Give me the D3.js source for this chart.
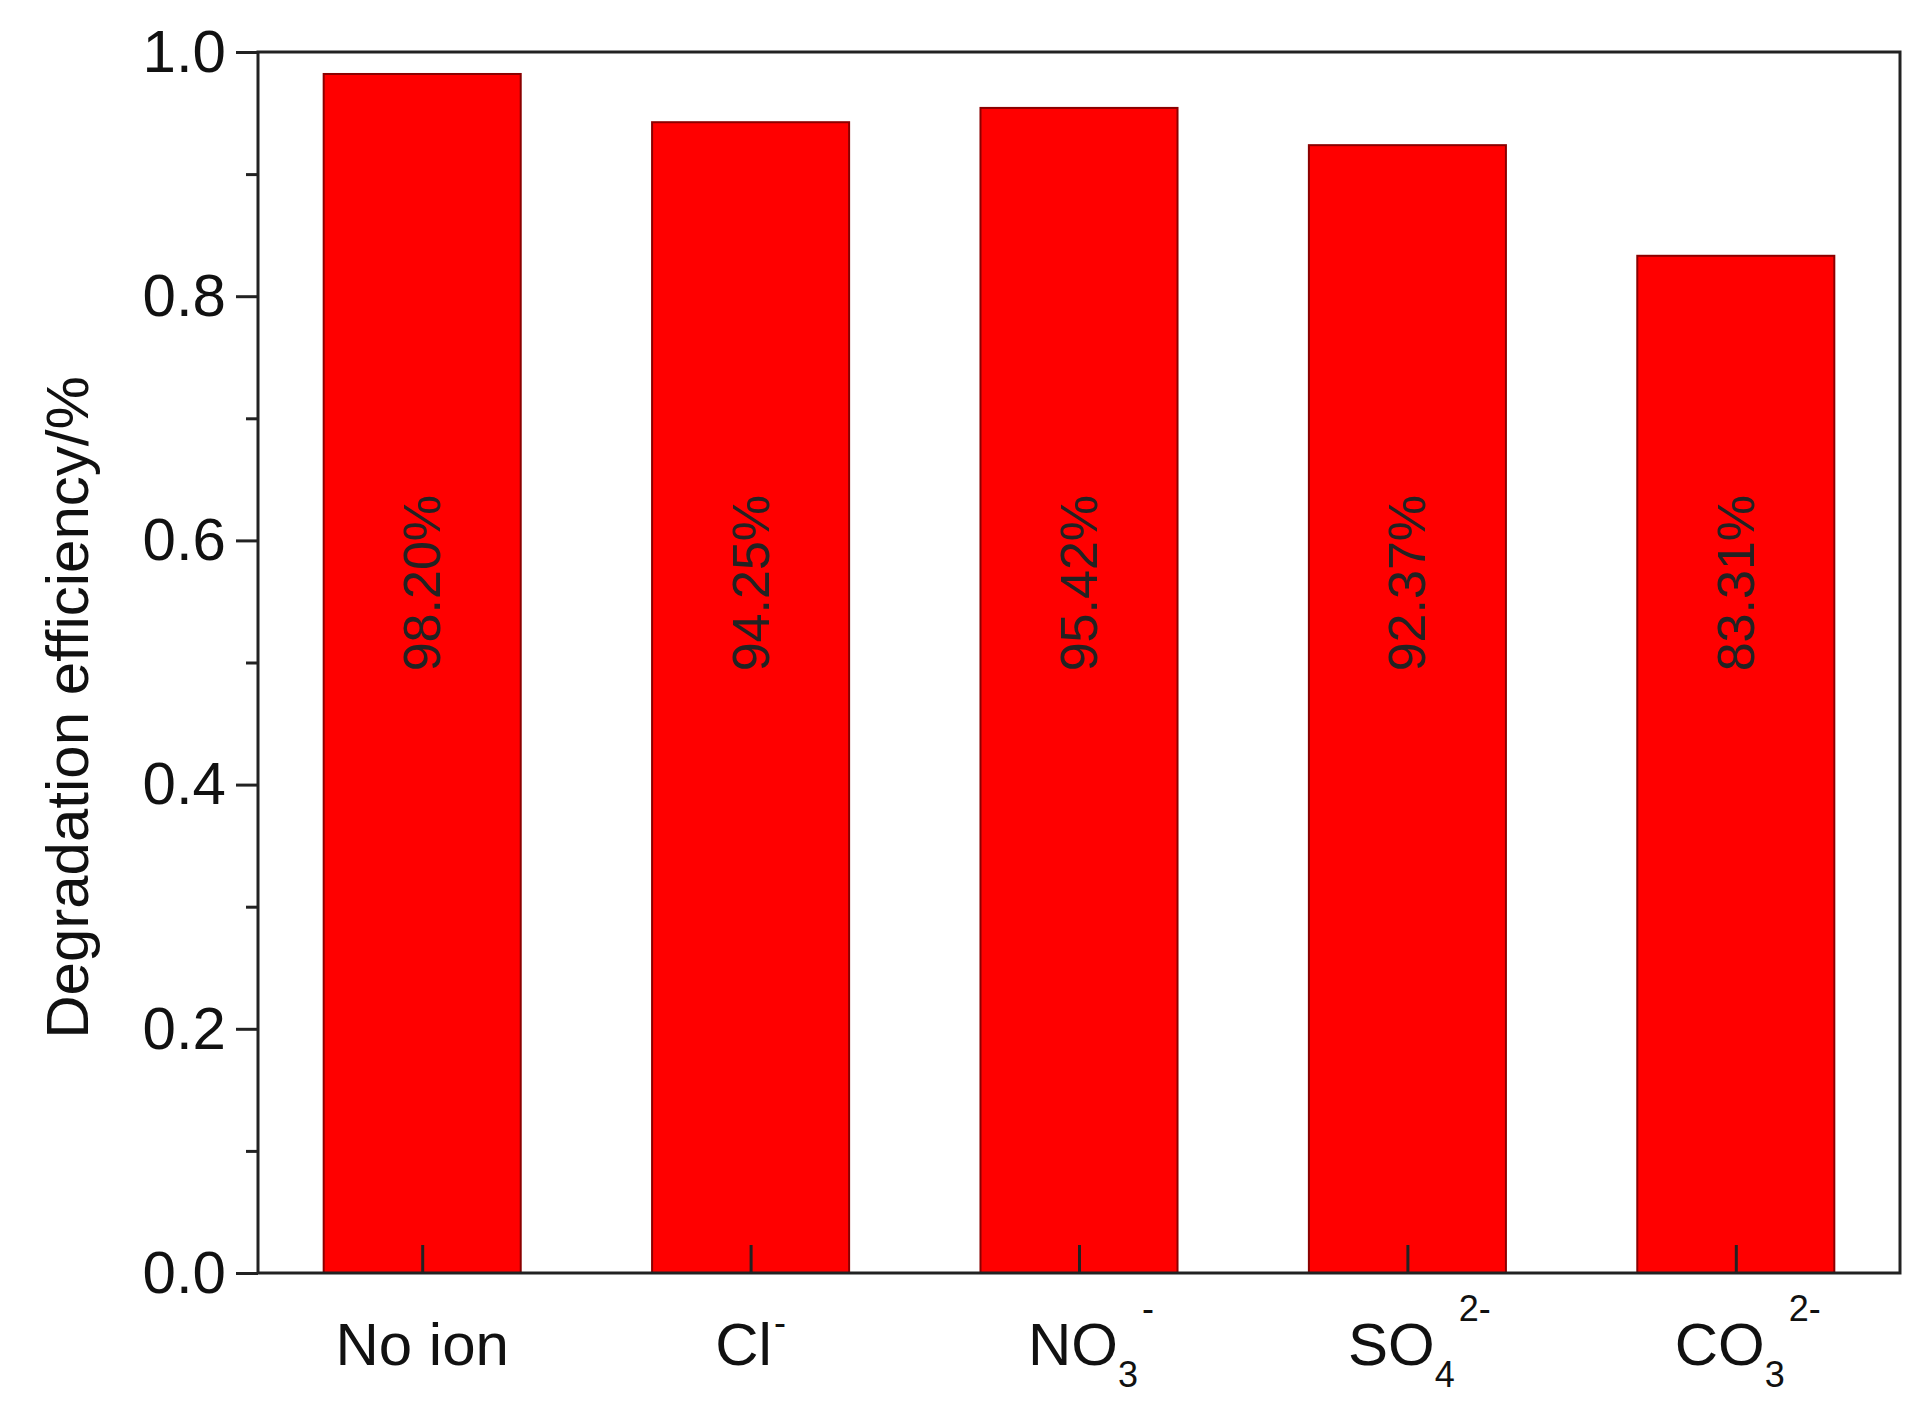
<!DOCTYPE html>
<html><head><meta charset="utf-8">
<script src="https://cdn.jsdelivr.net/npm/d3@7/dist/d3.min.js"></script>
<style>body{margin:0;background:#fff}svg{display:block}text{font-family:"Liberation Sans",Arial,sans-serif}</style>
</head><body>
<script>
const categories = ["No ion","Cl","NO","SO","CO"];
const subs = ["", "", "3", "4", "3"];
const sups = ["", "-", "-", "2-", "2-"];
const values = [0.982, 0.9425, 0.9542, 0.9237, 0.8331];
const valueLabels = ["98.20%","94.25%","95.42%","92.37%","83.31%"];
const yTicks = [0.0,0.2,0.4,0.6,0.8,1.0];
const yMinor = [0.1,0.3,0.5,0.7,0.9];

const W=1931,H=1411, L=258, R=1900, T=52, B=1273;
const svg=d3.select("body").append("svg").attr("width",W).attr("height",H);
const x=d3.scaleLinear().domain([0.5,5.5]).range([L,R]);
const y=d3.scaleLinear().domain([0,1]).range([B,T]);
const bw=(x(1)-x(0))*0.6;

svg.selectAll("rect.bar").data(values).join("rect")
 .attr("x",(d,i)=>x(i+1)-bw/2).attr("y",d=>y(d)).attr("width",bw).attr("height",d=>B-y(d))
 .attr("fill","#ff0000").attr("stroke","#8b0000").attr("stroke-width",2);

svg.selectAll("text.val").data(valueLabels).join("text")
 .attr("transform",(d,i)=>`translate(${x(i+1)},${y(0.565)}) rotate(-90)`)
 .attr("text-anchor","middle").attr("dominant-baseline","central")
 .attr("font-size",52).attr("fill","#222").text(d=>d);

svg.append("rect").attr("x",L).attr("y",T).attr("width",R-L).attr("height",B-T)
 .attr("fill","none").attr("stroke","#222").attr("stroke-width",3);

const ya=svg.append("g").attr("transform",`translate(${L},0)`)
 .call(d3.axisLeft(y).tickValues(yTicks).tickFormat(d3.format(".1f")).tickSize(22).tickPadding(10));
ya.select(".domain").remove();
ya.selectAll("line").attr("stroke","#222").attr("stroke-width",3);
ya.selectAll("text").attr("font-size",60).attr("fill","#111").style("font-family","Liberation Sans, Arial");
svg.append("g").attr("transform",`translate(${L},0)`)
 .call(d3.axisLeft(y).tickValues(yMinor).tickFormat("").tickSize(12))
 .call(g=>{g.select(".domain").remove();g.selectAll("line").attr("stroke","#222").attr("stroke-width",3);});

const xa=svg.append("g").attr("transform",`translate(0,${B})`)
 .call(d3.axisTop(x).tickValues([1,2,3,4,5]).tickFormat("").tickSize(28));
xa.select(".domain").remove();
xa.selectAll("line").attr("stroke","#222").attr("stroke-width",3);

categories.forEach((c,i)=>{
  const t=svg.append("text").attr("x",x(i+1)+(i<2?0:12)).attr("y",1365)
    .attr("text-anchor","middle").attr("font-size",60).attr("fill","#111");
  t.append("tspan").text(c);
  if(subs[i]) t.append("tspan").attr("font-size",36).attr("dy",22).text(subs[i]);
  if(sups[i]) t.append("tspan").attr("font-size",36).attr("dy",subs[i]?-66:-30).attr("dx",subs[i]?4:2).text(sups[i]);
});

svg.append("text").attr("transform",`translate(88,${(T+B)/2+45}) rotate(-90)`)
 .attr("text-anchor","middle").attr("font-size",60).attr("fill","#111").text("Degradation efficiency/%");
</script>
</body></html>
